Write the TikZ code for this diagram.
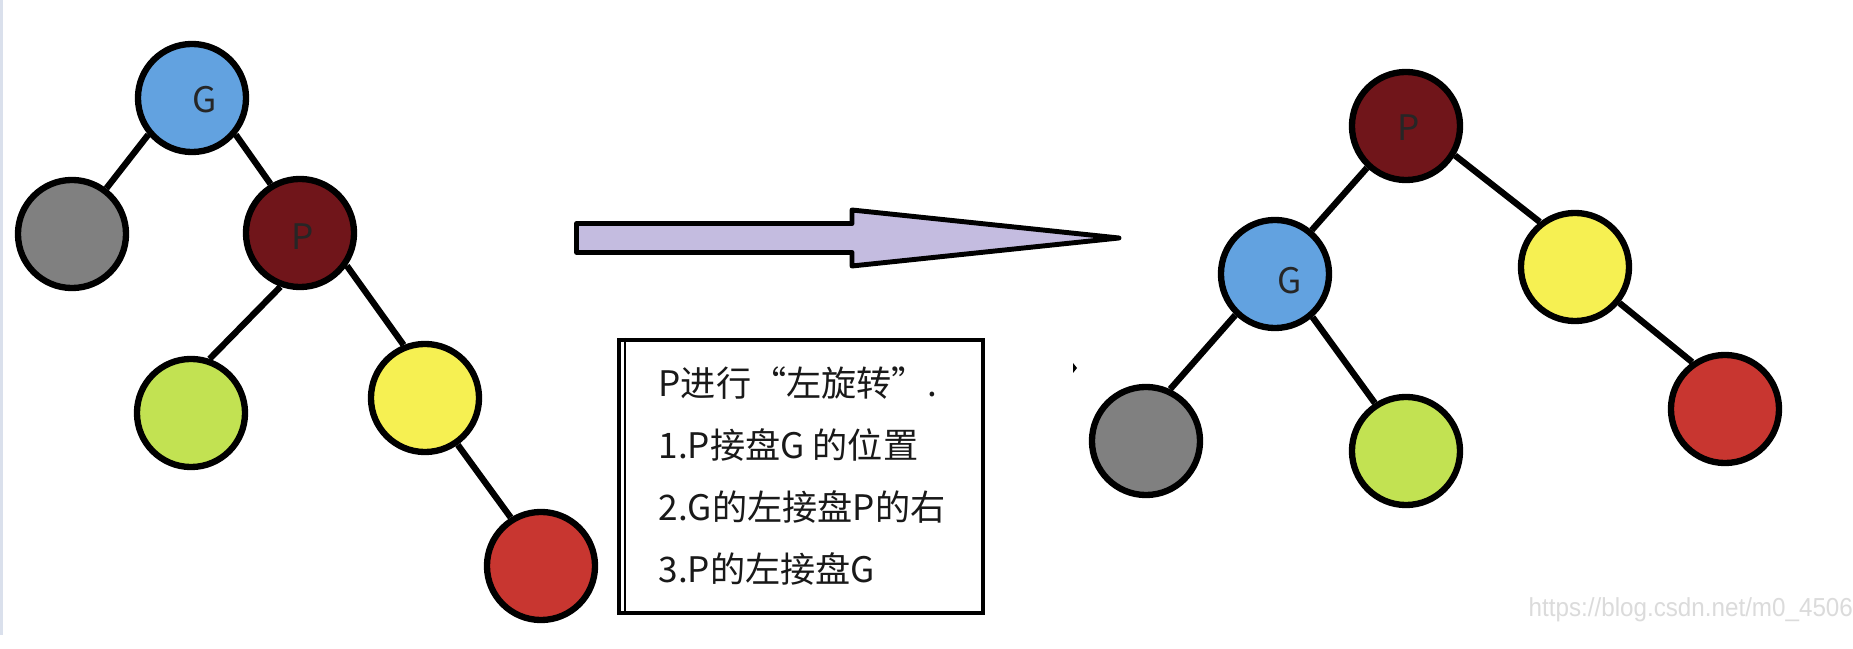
\documentclass[tikz,border=0pt]{standalone}
\usepackage{fontspec}
\setmainfont{Noto Sans CJK SC}
\newfontfamily\wmfont{Liberation Sans}
\usepackage{tikz}
\usetikzlibrary{positioning, arrows.meta}

\definecolor{nodeblue}{RGB}{98,162,224}
\definecolor{nodegray}{RGB}{128,128,128}
\definecolor{nodedarkred}{RGB}{112,21,26}
\definecolor{nodelime}{RGB}{194,226,82}
\definecolor{nodeyellow}{RGB}{246,240,82}
\definecolor{nodered}{RGB}{200,54,48}
\definecolor{arrowfill}{RGB}{196,188,224}
\definecolor{edgegray}{RGB}{218,224,236}

\begin{document}
\begin{tikzpicture}[x=0.01cm, y=-0.01cm,
    vertex/.style={circle, draw=black, line width=1.8pt, minimum size=1.08cm, inner sep=0pt},
    vlabel/.style={font=\fontsize{10pt}{12pt}\selectfont, text=black!85},
    link/.style={draw=black, line width=1.8pt},
    notebox/.style={draw=black, line width=1.1pt, minimum width=3.64cm, minimum height=2.73cm, inner sep=0pt},
    notetext/.style={align=left, inner sep=0pt, text=black!90, font=\fontsize{10pt}{17.6pt}\selectfont}]
  \useasboundingbox[fill=white] (0,0) rectangle (1853,649);
  \fill[edgegray] (0,0) rectangle (3,635);

  % before: G with P as right child
  \node[vertex, fill=nodeblue, label={[vlabel, xshift=0.13cm, yshift=-0.02cm]center:G}] (lG) at (192,98) {};
  \node[vertex, fill=nodegray] (lgray) at (72,234) {};
  \node[vertex, fill=nodedarkred, label={[vlabel, xshift=0.025cm, yshift=-0.04cm]center:P}] (lP) at (300,233) {};
  \node[vertex, fill=nodelime] (llime) at (191,413) {};
  \node[vertex, fill=nodeyellow] (lyellow) at (425,398) {};
  \node[vertex, fill=nodered] (lred) at (541,566) {};
  \draw[link] (lG.220) -- (lgray.53);
  \draw[link] (lG.320) -- (lP.121);
  \draw[link] (lP.250) -- (llime.71);
  \draw[link] (lP.325) -- (lyellow.112);
  \draw[link] (lyellow.305) -- (lred.122);

  % the big arrow
  \draw[line width=1.4pt, fill=arrowfill, line join=round]
    (576.5,223.5) -- (852,223.5) -- (852,210) -- (1119,238) -- (852,266) -- (852,252.5) -- (576.5,252.5) -- cycle;

  % after: P on top
  \node[vertex, fill=nodedarkred, label={[vlabel, xshift=0.03cm, yshift=-0.02cm]center:P}] (rP) at (1406,126) {};
  \node[vertex, fill=nodeblue, label={[vlabel, xshift=0.15cm, yshift=-0.07cm]center:G}] (rG) at (1275,274) {};
  \node[vertex, fill=nodeyellow] (ryellow) at (1575,267) {};
  \node[vertex, fill=nodegray] (rgray) at (1146,441) {};
  \node[vertex, fill=nodelime] (rlime) at (1406,451) {};
  \node[vertex, fill=nodered] (rred) at (1725,409) {};
  \draw[link] (rP.227) -- (rG.50);
  \draw[link] (rP.329) -- (ryellow.128);
  \draw[link] (rG.226) -- (rgray.65);
  \draw[link] (rG.311) -- (rlime.123);
  \draw[link] (ryellow.321) -- (rred.125);

  \node[notebox] (note) at (801,476.5) {};
  \draw[line width=0.8pt] ([xshift=0.08cm]note.north west) -- ([xshift=0.08cm]note.south west);
  \node[notetext, anchor=north west] (steps) at (658,366)
    {P进行“左旋转”.\\1.P接盘G 的位置\\2.G的左接盘P的右\\3.P的左接盘G};

  \fill (1073,363) -- (1077,368) -- (1073,373) -- cycle;
  \node[anchor=base west, inner sep=0pt, text=black!14, font=\wmfont\fontsize{7.4pt}{9pt}\selectfont, xscale=0.93] (wm) at (1528,617) {https://blog.csdn.net/m0\_4506};
\end{tikzpicture}
\end{document}
